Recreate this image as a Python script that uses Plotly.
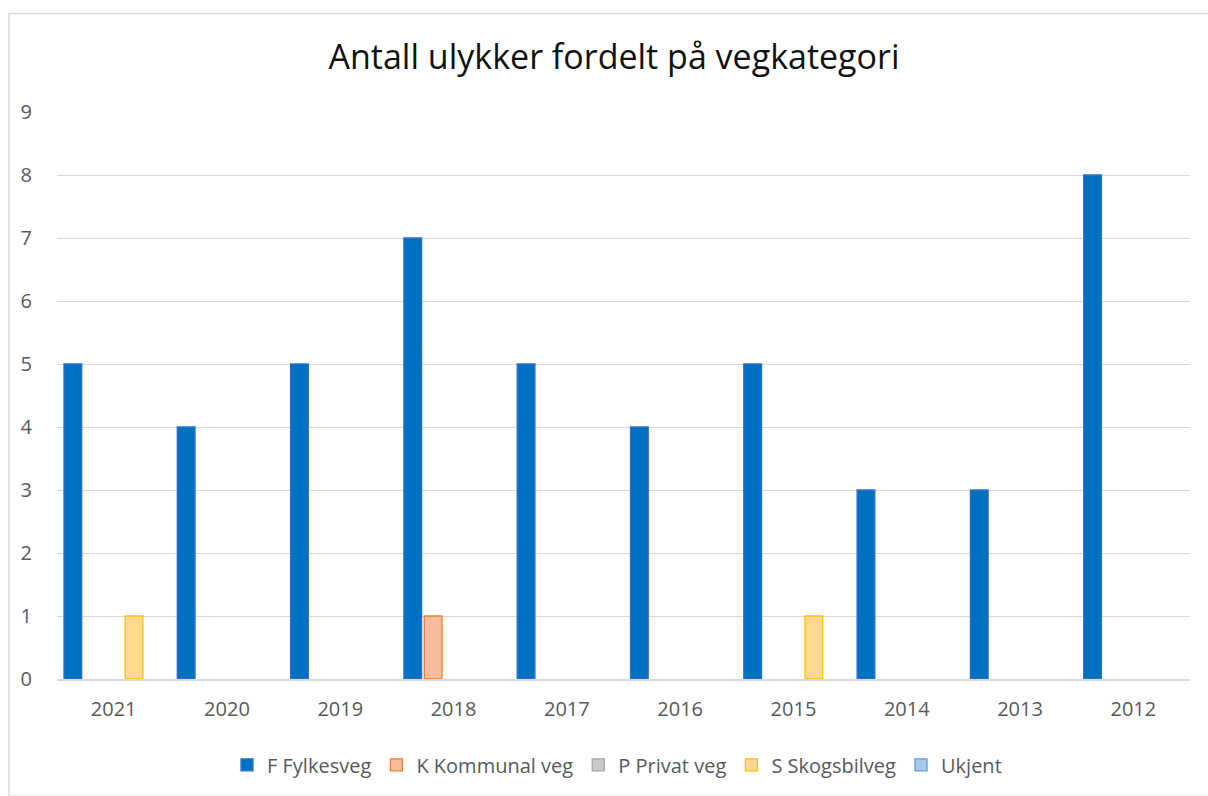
import plotly.graph_objects as go

years = ["2021", "2020", "2019", "2018", "2017", "2016", "2015", "2014", "2013", "2012"]
fylkesveg = [5, 4, 5, 7, 5, 4, 5, 3, 3, 8]
kommunal = [0, 0, 0, 1, 0, 0, 0, 0, 0, 0]
privat = [0, 0, 0, 0, 0, 0, 0, 0, 0, 0]
skogsbilveg = [1, 0, 0, 0, 0, 0, 1, 0, 0, 0]
ukjent = [0, 0, 0, 0, 0, 0, 0, 0, 0, 0]

series = [
    ("F Fylkesveg", fylkesveg, "#0070C0", "#2F6FD0"),
    ("K Kommunal veg", kommunal, "#F7BC9C", "#ED7D31"),
    ("P Privat veg", privat, "#C9C9C9", "#A5A5A5"),
    ("S Skogsbilveg", skogsbilveg, "#FFD88C", "#FFC000"),
    ("Ukjent", ukjent, "#A9C8EA", "#5B9BD5"),
]

FONT = "Open Sans"
fig = go.Figure()
for name, vals, fill, edge in series:
    fig.add_trace(go.Bar(
        x=years, y=[v if v else None for v in vals], name=name,
        marker=dict(color=fill, line=dict(color=edge, width=1.3)),
    ))

W, H = 1208, 796
ml, mr, mt, mb = 57, 18, 112, 109
pw, ph = W - ml - mr, H - mt - mb

fig.update_layout(
    width=W, height=H,
    margin=dict(l=ml, r=mr, t=mt, b=mb),
    paper_bgcolor="white", plot_bgcolor="white",
    barmode="group", bargap=0.1, bargroupgap=0.13,
    title=dict(text="Antall ulykker fordelt på vegkategori",
               x=614 / W, xanchor="center", y=1 - 57 / H, yanchor="middle",
               font=dict(family=FONT, size=34, color="#111111")),
    font=dict(family=FONT, size=20, color="#595959"),
    legend=dict(orientation="h", x=(617 - ml) / pw, xanchor="center",
                y=(0 - 87) / ph, yanchor="middle",
                font=dict(family=FONT, size=20, color="#595959"),
                traceorder="normal"),
    showlegend=True,
)
fig.update_xaxes(showline=True, linecolor="#D9D9D9", linewidth=1.5,
                 ticks="outside", ticklen=11, tickcolor="rgba(0,0,0,0)",
                 showgrid=False, fixedrange=True)
fig.update_yaxes(range=[0, 9], dtick=1, showgrid=True, gridcolor="#D9D9D9",
                 gridwidth=1.3, zeroline=False, showline=False,
                 ticks="outside", ticklen=20, tickcolor="rgba(0,0,0,0)")

# chart border (left and top edges visible, right/bottom run off the page)
fig.add_shape(type="rect", xref="paper", yref="paper",
              x0=(9 - ml) / pw, x1=(W + 10 - ml) / pw,
              y0=(ph + mt - (H + 10)) / ph, y1=(ph + mt - 12) / ph,
              line=dict(color="#D9D9D9", width=1.5), fillcolor="rgba(0,0,0,0)",
              layer="below")

fig.write_html(
    "out.html",
    config={"displayModeBar": False},
    post_script="document.body.style.margin='0';document.body.style.overflow='hidden';",
)
